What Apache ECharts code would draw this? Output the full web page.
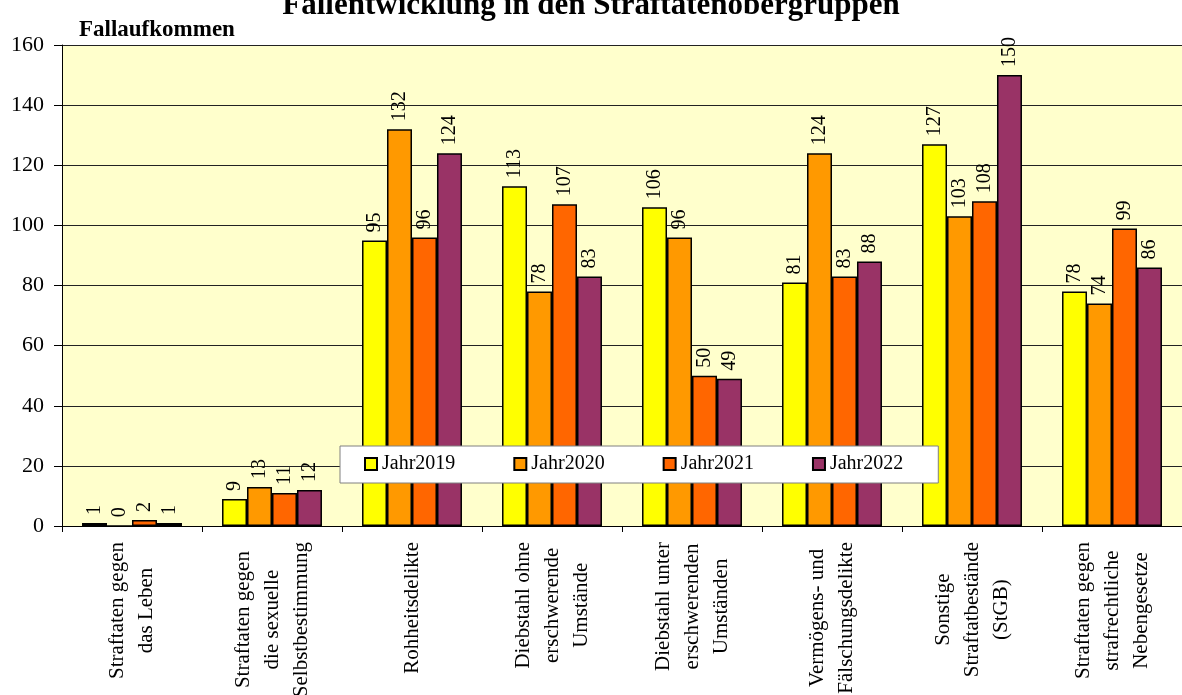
<!DOCTYPE html>
<html><head><meta charset="utf-8">
<script src="https://cdn.jsdelivr.net/npm/echarts@6/dist/echarts.min.js"></script>
<style>html,body{margin:0;padding:0;background:#fff}#c{width:1182px;height:695px}</style>
</head><body><div id="c"></div>
<script>
const categories = [
  "Straftaten gegen\ndas Leben",
  "Straftaten gegen\ndie sexuelle\nSelbstbestimmung",
  "Rohheitsdelikte",
  "Diebstahl ohne\nerschwerende\nUmstände",
  "Diebstahl unter\nerschwerenden\nUmständen",
  "Vermögens- und\nFälschungsdelikte",
  "Sonstige\nStraftatbestände\n(StGB)",
  "Straftaten gegen\nstrafrechtliche\nNebengesetze"
];
const jahr2019 = [1, 9, 95, 113, 106, 81, 127, 78];
const jahr2020 = [0, 13, 132, 78, 96, 124, 103, 74];
const jahr2021 = [2, 11, 96, 107, 50, 83, 108, 99];
const jahr2022 = [1, 12, 124, 83, 49, 88, 150, 86];
const seriesNames = ["Jahr2019", "Jahr2020", "Jahr2021", "Jahr2022"];
const colors = ["#FFFF00", "#FF9900", "#FF6600", "#993366"];

const FONT = "Liberation Serif";
const chart = echarts.init(document.getElementById('c'));
const mk = (name, data, color) => ({
  name, type: 'bar', data,
  barGap: '0%', barCategoryGap: '28.6%',
  itemStyle: { color, borderColor: '#000', borderWidth: 1.5 },
  label: {
    show: true, position: 'top', rotate: 90, align: 'left', verticalAlign: 'middle',
    distance: 8, fontFamily: FONT, fontSize: 20, color: '#000'
  }
});
chart.setOption({
  animation: false,
  title: [
    { text: 'Fallentwicklung in den Straftatenobergruppen', left: 'center', top: -15,
      textStyle: { fontFamily: FONT, fontWeight: 'bold', fontSize: 31, color: '#000' } },
    { text: 'Fallaufkommen', left: 74, top: 14,
      textStyle: { fontFamily: FONT, fontWeight: 'bold', fontSize: 23, color: '#000' } }
  ],
  legend: {
    left: 340, top: 446,
    padding: [8, 35, 9, 24],
    backgroundColor: '#fff', borderColor: '#808080', borderWidth: 1,
    itemWidth: 12, itemHeight: 12, itemGap: 58, icon: 'rect',
    textStyle: { fontFamily: FONT, fontSize: 20, color: '#000' },
    data: seriesNames
  },
  grid: { left: 62, right: 0, top: 45, bottom: 169, show: true,
    backgroundColor: '#FFFFCC', borderWidth: 0,
    containLabel: false, outerBoundsMode: 'none' },
  xAxis: {
    type: 'category', data: categories,
    axisLine: { lineStyle: { color: '#000', width: 1 } },
    axisTick: { show: true, length: 6, lineStyle: { color: '#000' } },
    axisLabel: {
      interval: 0, rotate: 90, margin: 16, color: '#000',
      fontFamily: FONT, fontSize: 21,
      formatter: v => v.split('\n').map(s => '{a|' + s + '}').join('\n'),
      rich: { a: { align: 'center', fontFamily: FONT, fontSize: 21, lineHeight: 29, color: '#000' } }
    }
  },
  yAxis: {
    type: 'value', min: 0, max: 160, interval: 20,
    axisLine: { show: true, lineStyle: { color: '#000', width: 1 } },
    axisTick: { show: true, length: 8, lineStyle: { color: '#000' } },
    axisLabel: { margin: 18, color: '#000', fontFamily: FONT, fontSize: 22 },
    splitLine: { lineStyle: { color: '#222', width: 1 } }
  },
  series: [
    mk(seriesNames[0], jahr2019, colors[0]),
    mk(seriesNames[1], jahr2020, colors[1]),
    mk(seriesNames[2], jahr2021, colors[2]),
    mk(seriesNames[3], jahr2022, colors[3])
  ]
});
</script></body></html>
